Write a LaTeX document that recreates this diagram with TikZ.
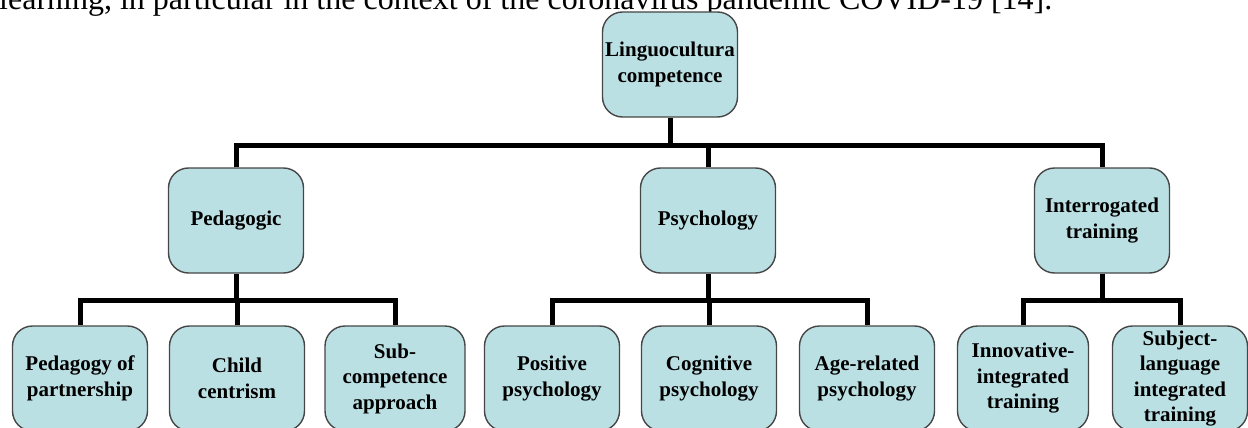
\documentclass[tikz,border=0pt]{standalone}
\usepackage{fontspec}
\setmainfont{Liberation Serif}
\definecolor{boxfill}{RGB}{187,224,228}
\definecolor{boxline}{RGB}{70,70,70}
\begin{document}
\begin{tikzpicture}[x=1pt,y=-1pt,
  cbox/.style={draw=boxline,line width=1.4pt,fill=boxfill,rounded corners=20pt,
    minimum width=135pt,minimum height=105pt,align=center,inner sep=2pt,
    font=\bfseries\fontsize{21}{25.5}\selectfont},
  conn/.style={line width=5pt,black}]
\useasboundingbox (0,0) rectangle (1248,428);
\node[anchor=base west,inner sep=0pt,font=\fontsize{32}{36}\selectfont] (cap) at (-1,9.5)
  {learning, in particular in the context of the coronavirus pandemic COVID-19 [14].};
\node[cbox] (top) at (670,64.5) {Linguocultura\\competence};
\node[cbox] (ped) at (236,220.5) {Pedagogic};
\node[cbox] (psy) at (708,220.5) {Psychology};
\node[cbox] (int) at (1102,220.5) {Interrogated\\training};
\node[cbox] (b1) at (80,378.5) {Pedagogy of\\partnership};
\node[cbox] (b2) at (237,378.5) {Child\\centrism};
\node[cbox,minimum width=140pt] (b3) at (395,378.5) {Sub-\\competence\\approach};
\node[cbox] (b4) at (552,378.5) {Positive\\psychology};
\node[cbox] (b5) at (709,378.5) {Cognitive\\psychology};
\node[cbox] (b6) at (867,378.5) {Age-related\\psychology};
\node[cbox,minimum width=131pt] (b7) at (1023,378.5) {Innovative-\\integrated\\training};
\node[cbox] (b8) at (1180,378.5) {Subject-\\language\\integrated\\training};
\coordinate (h1) at (670,145);
\coordinate (h2) at (236,300);
\coordinate (h3) at (708,300);
\coordinate (h4) at (1102,300);
\draw[conn] (top.south) -- (h1);
\draw[conn] (ped.north) |- (h1);
\draw[conn] (psy.north) |- (h1);
\draw[conn] (int.north) |- (h1);
\draw[conn] (ped.south) -- (h2);
\draw[conn] (b1.north) |- (h2);
\draw[conn] (b2.north) |- (h2);
\draw[conn] (b3.north) |- (h2);
\draw[conn] (psy.south) -- (h3);
\draw[conn] (b4.north) |- (h3);
\draw[conn] (b5.north) |- (h3);
\draw[conn] (b6.north) |- (h3);
\draw[conn] (int.south) -- (h4);
\draw[conn] (b7.north) |- (h4);
\draw[conn] (b8.north) |- (h4);
\end{tikzpicture}
\end{document}
